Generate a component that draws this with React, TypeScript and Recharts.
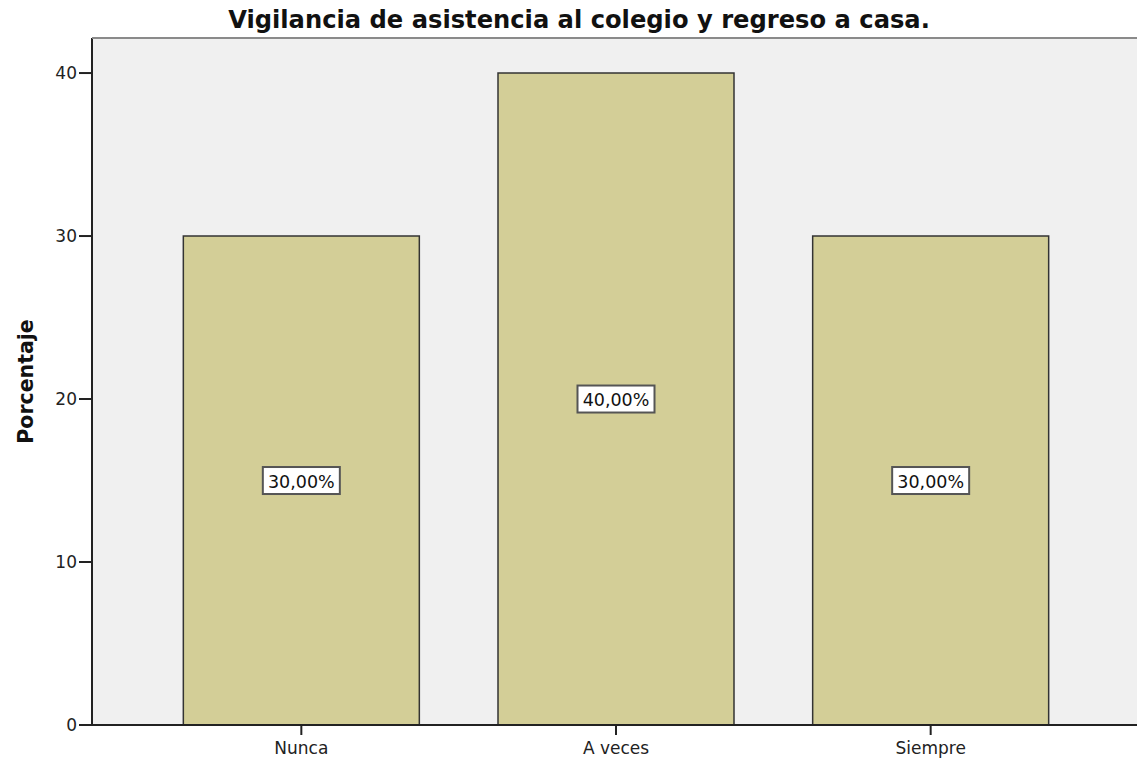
import { Bar, BarChart, CartesianGrid, LabelList, XAxis, YAxis } from "recharts";

const categories = ["Nunca", "A veces", "Siempre"];
const percentages = [30, 40, 30];
const yTicks = [0, 10, 20, 30, 40];

const data = categories.map((name, i) => ({ name, value: percentages[i] }));

const FONT = "'DejaVu Sans', Verdana, sans-serif";

const renderValueBox = (props: any) => {
	const { x, y, width, height, value } = props;
	const cx = Number(x) + Number(width) / 2;
	const cy = Number(y) + Number(height) / 2;
	const text = `${Number(value).toFixed(2).replace(".", ",")}%`;
	const w = 77;
	const h = 27;
	return (
		<g>
			<rect x={cx - w / 2} y={cy - h / 2} width={w} height={h} fill="#ffffff" stroke="#555555" strokeWidth={2} />
			<text
				x={cx}
				y={cy + 1}
				textAnchor="middle"
				dominantBaseline="central"
				style={{ fontFamily: FONT, fontSize: 17.5, fill: "#111111" }}>
				{text}
			</text>
		</g>
	);
};

const yLabel = (props: any) => {
	const { viewBox } = props;
	const cy = viewBox.y + viewBox.height / 2;
	return (
		<text
			x={33}
			y={cy}
			transform={`rotate(-90, 33, ${cy})`}
			textAnchor="middle"
			style={{ fontFamily: FONT, fontSize: 20.5, fontWeight: "bold", fill: "#111111" }}>
			Porcentaje
		</text>
	);
};

const App = () => {
	return (
		<div style={{ position: "fixed", left: 0, top: 0, width: 1137, height: 760, background: "#ffffff" }}>
			<div
				style={{
					position: "absolute",
					left: 0,
					width: 1158,
					top: 6,
					textAlign: "center",
					fontFamily: FONT,
					fontWeight: "bold",
					fontSize: 24.2,
					color: "#111111",
					lineHeight: "28px",
					whiteSpace: "nowrap",
				}}>
				Vigilancia de asistencia al colegio y regreso a casa.
			</div>
			<BarChart
				width={1137}
				height={760}
				data={data}
				margin={{ top: 38, right: 0, bottom: 0, left: 0 }}
				barCategoryGap="12.5%">
				<CartesianGrid fill="#f0f0f0" horizontal={false} vertical={false} />
				<XAxis
					dataKey="name"
					height={35}
					padding={{ left: 52, right: 49 }}
					tickSize={10}
					tickMargin={7}
					axisLine={{ stroke: "#222222", strokeWidth: 2 }}
					tickLine={{ stroke: "#222222", strokeWidth: 2 }}
					tick={{ fontFamily: FONT, fontSize: 17, fill: "#222222" }}
				/>
				<YAxis
					width={92}
					domain={[0, 42.15]}
					ticks={yTicks}
					allowDataOverflow
					tickSize={13}
					tickMargin={2}
					axisLine={{ stroke: "#222222", strokeWidth: 2 }}
					tickLine={{ stroke: "#222222", strokeWidth: 2 }}
					tick={{ fontFamily: FONT, fontSize: 17, fill: "#222222" }}
					label={yLabel}
				/>
				<Bar dataKey="value" fill="#d3ce97" stroke="#333333" strokeWidth={1.5} isAnimationActive={false}>
					<LabelList dataKey="value" content={renderValueBox} />
				</Bar>
			</BarChart>
			<div style={{ position: "absolute", left: 92, top: 37, width: 1045, height: 2, background: "#8a8a8a" }} />
		</div>
	);
};

export default App;
